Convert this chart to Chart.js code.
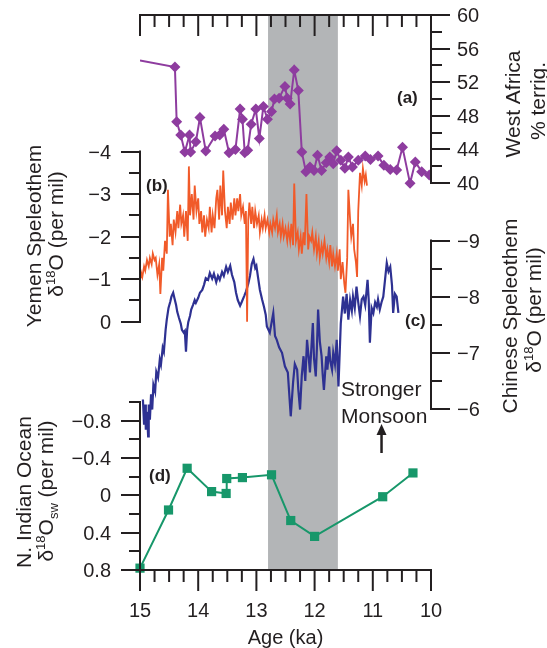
<!DOCTYPE html>
<html>
<head>
<meta charset="utf-8">
<script src="https://cdn.jsdelivr.net/npm/chart.js@4.4.0/dist/chart.umd.min.js"></script>
<style>
  html, body { margin: 0; padding: 0; background: #fff; }
  #wrap { width: 547px; height: 648px; position: relative; }
</style>
</head>
<body>
<div id="wrap"><canvas id="chart"></canvas></div>
<script>
// ---- data (age in ka, value) ----
const ageTicks = [15, 14, 13, 12, 11, 10];
const shadeBand = [12.8, 11.6];

// (a) West Africa % terrig.
const westAfrica = [
  [15.00, 54.6], [14.40, 53.8], [14.37, 47.3], [14.30, 45.7], [14.23, 43.7], [14.15, 45.7],
  [14.13, 43.7], [14.04, 44.9], [13.97, 47.8], [13.87, 43.8], [13.71, 45.6], [13.63, 45.7],
  [13.56, 46.4], [13.47, 43.6], [13.36, 44.0], [13.28, 48.8], [13.24, 47.6], [13.20, 43.6],
  [13.15, 43.9], [13.09, 47.0], [13.01, 48.8], [12.95, 45.3], [12.88, 49.1], [12.81, 47.6],
  [12.74, 48.5], [12.69, 50.0], [12.61, 50.1], [12.51, 51.5], [12.47, 50.1], [12.42, 49.4],
  [12.35, 53.45], [12.28, 51.0], [12.22, 43.7], [12.15, 41.35], [12.08, 41.9], [12.01, 41.5],
  [11.95, 43.3], [11.88, 41.5], [11.80, 42.4], [11.74, 43.1], [11.68, 42.3], [11.62, 43.85],
  [11.55, 42.7], [11.48, 41.75], [11.42, 43.1], [11.35, 41.9], [11.25, 42.7], [11.13, 43.2],
  [11.04, 42.8], [10.91, 43.2], [10.81, 42.1], [10.70, 41.6], [10.59, 41.55], [10.49, 44.25],
  [10.36, 39.96], [10.27, 42.5], [10.16, 41.35], [10.03, 40.95]
];

// (b) Yemen speleothem d18O
const yemen = [
  [15.00, -0.98], [14.98, -1.15], [14.96, -1.05], [14.93, -1.3], [14.91, -1.2], [14.88, -1.45],
  [14.85, -1.3], [14.83, -1.5], [14.80, -1.35], [14.78, -1.6], [14.75, -1.45], [14.73, -1.5],
  [14.70, -1.1], [14.67, -1.35], [14.65, -0.65], [14.62, -1.5], [14.60, -1.2], [14.57, -1.9],
  [14.54, -1.6], [14.52, -3.1], [14.49, -2.0], [14.47, -2.3], [14.44, -1.8], [14.42, -2.4],
  [14.39, -2.1], [14.36, -2.6], [14.34, -2.2], [14.31, -2.75], [14.29, -2.3], [14.26, -2.5],
  [14.24, -2.0], [14.21, -2.6], [14.18, -1.9], [14.16, -3.65], [14.14, -2.5], [14.11, -3.0],
  [14.08, -2.4], [14.06, -3.2], [14.03, -2.6], [14.00, -2.9], [13.98, -2.3], [13.95, -2.6],
  [13.93, -2.1], [13.90, -2.5], [13.88, -2.0], [13.85, -2.4], [13.82, -2.2], [13.80, -2.7],
  [13.77, -2.1], [13.75, -2.5], [13.72, -2.2], [13.69, -2.9], [13.67, -3.1], [13.64, -2.4],
  [13.62, -3.2], [13.59, -2.5], [13.57, -3.55], [13.54, -2.6], [13.51, -2.2], [13.49, -2.7],
  [13.46, -2.3], [13.44, -2.8], [13.41, -2.4], [13.38, -2.9], [13.36, -2.5], [13.33, -2.9],
  [13.31, -2.6], [13.28, -3.0], [13.26, -2.5], [13.23, -2.7], [13.20, -2.3], [13.18, -2.6],
  [13.16, 0.0], [13.14, -2.4], [13.12, -2.8], [13.09, -2.3], [13.07, -2.7], [13.04, -2.2],
  [13.02, -2.6], [12.99, -2.3], [12.96, -2.5], [12.94, -2.1], [12.91, -2.4], [12.89, -2.2],
  [12.86, -2.5], [12.84, -2.2], [12.81, -2.4], [12.78, -2.1], [12.76, -2.3], [12.73, -2.1],
  [12.71, -2.4], [12.68, -2.2], [12.65, -2.5], [12.63, -2.1], [12.60, -2.3], [12.58, -2.0],
  [12.55, -2.3], [12.53, -2.0], [12.50, -2.2], [12.47, -1.9], [12.45, -2.2], [12.42, -1.9],
  [12.40, -2.3], [12.37, -1.8], [12.35, -3.25], [12.32, -1.9], [12.29, -2.1], [12.27, -1.7],
  [12.24, -2.0], [12.22, -1.6], [12.19, -2.1], [12.17, -1.8], [12.14, -3.0], [12.11, -1.7],
  [12.09, -2.0], [12.06, -1.9], [12.04, -2.1], [12.01, -1.7], [11.98, -2.0], [11.96, -1.6],
  [11.93, -1.9], [11.91, -1.5], [11.88, -1.8], [11.86, -1.6], [11.83, -1.9], [11.80, -1.5],
  [11.78, -1.7], [11.75, -1.4], [11.73, -1.8], [11.70, -1.3], [11.68, -1.6], [11.65, -1.3],
  [11.62, -1.6], [11.60, -1.2], [11.57, -1.7], [11.55, -1.0], [11.52, -1.4], [11.49, -0.9],
  [11.47, -0.68], [11.44, -1.5], [11.42, -3.1], [11.39, -2.4], [11.37, -2.0], [11.34, -2.3],
  [11.32, -1.7], [11.29, -1.4], [11.27, -1.05], [11.25, -2.6], [11.22, -3.5], [11.19, -3.2],
  [11.17, -3.6], [11.14, -3.3], [11.12, -3.45], [11.10, -3.2]
];

// (c) Chinese speleothem d18O
const chinese = [
  [14.95, -6.17], [14.93, -5.72], [14.91, -6.08], [14.90, -5.63], [14.88, -5.95], [14.86, -5.51],
  [14.85, -6.08], [14.83, -5.81], [14.81, -6.26], [14.79, -5.99], [14.77, -6.43], [14.74, -6.31],
  [14.72, -6.66], [14.69, -6.56], [14.66, -6.88], [14.64, -6.79], [14.61, -7.09], [14.59, -7.02],
  [14.56, -7.41], [14.54, -7.59], [14.51, -7.80], [14.48, -7.91], [14.46, -8.00], [14.43, -8.07],
  [14.41, -7.98], [14.38, -7.85], [14.36, -7.73], [14.33, -7.62], [14.30, -7.52], [14.28, -7.41],
  [14.25, -7.36], [14.23, -7.39], [14.21, -7.02], [14.19, -7.41], [14.17, -7.55], [14.14, -7.66],
  [14.12, -7.77], [14.09, -7.85], [14.06, -7.94], [14.04, -7.89], [14.00, -7.98], [13.97, -8.07],
  [13.93, -8.12], [13.90, -8.21], [13.87, -8.33], [13.83, -8.30], [13.80, -8.42], [13.76, -8.32],
  [13.73, -8.41], [13.69, -8.26], [13.66, -8.37], [13.63, -8.30], [13.59, -8.44], [13.56, -8.37],
  [13.52, -8.53], [13.49, -8.44], [13.45, -8.55], [13.42, -8.39], [13.38, -8.26], [13.35, -8.07],
  [13.32, -7.94], [13.28, -7.84], [13.25, -7.91], [13.21, -8.01], [13.18, -8.09], [13.14, -8.23],
  [13.11, -8.37], [13.08, -8.58], [13.05, -8.67], [13.02, -8.51], [13.00, -8.55], [12.97, -8.33],
  [12.94, -8.12], [12.90, -7.94], [12.87, -7.82], [12.84, -7.68], [12.82, -7.47], [12.77, -7.36],
  [12.71, -7.71], [12.68, -7.30], [12.65, -7.23], [12.61, -7.10], [12.56, -7.00], [12.51, -6.76],
  [12.46, -6.65], [12.41, -5.87], [12.37, -6.47], [12.34, -6.80], [12.30, -6.70], [12.28, -6.35],
  [12.25, -5.99], [12.22, -6.60], [12.19, -6.94], [12.16, -6.50], [12.13, -7.23], [12.10, -6.90],
  [12.08, -6.65], [12.03, -7.53], [12.01, -6.90], [11.98, -6.58], [11.96, -7.10], [11.94, -7.77],
  [11.91, -7.20], [11.88, -6.94], [11.86, -6.60], [11.84, -6.34], [11.80, -6.94], [11.78, -6.70],
  [11.75, -7.11], [11.73, -6.85], [11.70, -6.70], [11.68, -7.00], [11.65, -6.80], [11.62, -7.23],
  [11.59, -6.40], [11.55, -7.53], [11.51, -8.00], [11.48, -7.70], [11.45, -8.05], [11.42, -7.59],
  [11.39, -7.94], [11.36, -7.75], [11.34, -8.00], [11.31, -7.80], [11.28, -8.18], [11.25, -7.90],
  [11.22, -7.65], [11.19, -7.95], [11.16, -8.00], [11.13, -7.85], [11.09, -8.30], [11.07, -7.94],
  [11.05, -7.18], [11.02, -7.80], [10.99, -7.71], [10.96, -7.90], [10.93, -7.82], [10.91, -7.95],
  [10.88, -7.77], [10.85, -7.90], [10.82, -8.00], [10.79, -8.30], [10.76, -8.60], [10.73, -8.45],
  [10.70, -8.53], [10.67, -8.20], [10.65, -7.71], [10.62, -8.05], [10.59, -8.00], [10.56, -7.71]
];

// (d) N. Indian Ocean d18Osw
const indianOcean = [
  [15.00, 0.78], [14.51, 0.157], [14.19, -0.29], [13.77, -0.04], [13.52, -0.02], [13.51, -0.18],
  [13.24, -0.19], [12.74, -0.22], [12.41, 0.27], [12.00, 0.44], [10.83, 0.015], [10.31, -0.24]
];

// axis label values
const waTicks = [60, 56, 52, 48, 44, 40];
const yemenTicks = [-4, -3, -2, -1, 0];
const chinaTicks = [-9, -8, -7, -6];
const indianTicks = [-0.8, -0.4, 0, 0.4, 0.8];

// ---- layout ----
const PLOT = { left: 140, right: 431, top: 15, bottom: 570 };
const W = 547, H = 648;
const FONT = '"Liberation Sans", Arial, Helvetica, sans-serif';
const INK = '#231f20';

// min/max so that v0 sits at pixel p0 and v1 at pixel p1
function band(v0, p0, v1, p1) {
  const k = (v1 - v0) / (p1 - p0);
  const a = v0 + (PLOT.top - p0) * k;
  const b = v0 + (PLOT.bottom - p0) * k;
  return a < b ? { min: a, max: b, reverse: true } : { min: b, max: a, reverse: false };
}

const toXY = (arr) => arr.map(([x, y]) => ({ x, y }));
const fmt = (v) => String(v).replace('-', '\u2212');

function vAxis(ctx, scale, x, dir, lo, hi, step, majors) {
  ctx.beginPath();
  ctx.moveTo(x, scale.getPixelForValue(lo));
  ctx.lineTo(x, scale.getPixelForValue(hi));
  ctx.stroke();
  const n = Math.round((hi - lo) / step);
  for (let i = 0; i <= n; i++) {
    const v = lo + i * step;
    const y = Math.round(scale.getPixelForValue(v));
    const major = majors.some((m) => Math.abs(m - v) < 1e-6);
    const len = major ? 18 : 10;
    ctx.beginPath();
    ctx.moveTo(x, y);
    ctx.lineTo(x + dir * len, y);
    ctx.stroke();
  }
  ctx.font = '20px ' + FONT;
  ctx.textBaseline = 'alphabetic';
  ctx.textAlign = dir < 0 ? 'right' : 'left';
  majors.forEach((m) => {
    const y = scale.getPixelForValue(m);
    ctx.fillText(fmt(m), x + dir * (dir < 0 ? 29 : 26), y + 7);
  });
}

function hAxis(ctx, scale, y, dir) {
  ctx.beginPath();
  ctx.moveTo(scale.getPixelForValue(15), y);
  ctx.lineTo(scale.getPixelForValue(10), y);
  ctx.stroke();
  for (let i = 0; i <= 20; i++) {
    const v = 15 - i * 0.25;
    const x = scale.getPixelForValue(v);
    const len = i % 4 === 0 ? 20 : 11;
    ctx.beginPath();
    ctx.moveTo(x, y);
    ctx.lineTo(x, y + dir * len);
    ctx.stroke();
  }
}

// rotated multi-part title; parts: [text, size, shift]
function vTitle(ctx, x, yc, parts) {
  ctx.save();
  ctx.translate(x, yc);
  ctx.rotate(-Math.PI / 2);
  ctx.textBaseline = 'alphabetic';
  ctx.textAlign = 'left';
  let total = 0;
  parts.forEach(([t, s]) => { ctx.font = s + 'px ' + FONT; total += ctx.measureText(t).width; });
  let pos = -total / 2;
  parts.forEach(([t, s, d]) => {
    ctx.font = s + 'px ' + FONT;
    ctx.fillText(t, pos, d || 0);
    pos += ctx.measureText(t).width;
  });
  ctx.restore();
}

const decor = {
  id: 'decor',
  beforeDatasetsDraw(chart) {
    const { ctx, chartArea, scales } = chart;
    const x0 = scales.x.getPixelForValue(shadeBand[0]);
    const x1 = scales.x.getPixelForValue(shadeBand[1]);
    ctx.save();
    ctx.fillStyle = '#b3b5b7';
    ctx.fillRect(x0, chartArea.top, x1 - x0, chartArea.bottom - chartArea.top);
    ctx.restore();
  },
  afterDatasetsDraw(chart) {
    const { ctx, scales } = chart;
    const xs = scales.x;
    const L = xs.getPixelForValue(15), R = xs.getPixelForValue(10);
    ctx.save();
    ctx.strokeStyle = INK;
    ctx.fillStyle = INK;
    ctx.lineWidth = 2;
    ctx.lineCap = 'square';

    // top and bottom age axes
    hAxis(ctx, xs, PLOT.top, 1);
    hAxis(ctx, xs, PLOT.bottom, 1);
    ctx.font = '20px ' + FONT;
    ctx.textAlign = 'center';
    ctx.textBaseline = 'alphabetic';
    ageTicks.forEach((a) => ctx.fillText(String(a), xs.getPixelForValue(a), 617));
    ctx.fillText('Age (ka)', (L + R) / 2, 644);

    // panel axes
    vAxis(ctx, scales.yA, R, 1, 40, 60, 2, waTicks);
    vAxis(ctx, scales.yB, L, -1, -4, 0, 0.5, yemenTicks);
    vAxis(ctx, scales.yC, R, 1, -9, -6, 0.5, chinaTicks);
    vAxis(ctx, scales.yD, L, -1, -1.0, 0.8, 0.2, indianTicks);

    // axis titles
    vTitle(ctx, 520, 104, [['West Africa', 21]]);
    vTitle(ctx, 545, 101, [['% terrig.', 21]]);
    vTitle(ctx, 41, 236, [['Yemen Speleothem', 21]]);
    vTitle(ctx, 63, 234, [['\u03b4', 21], ['18', 13, -8], ['O (per mil)', 21]]);
    vTitle(ctx, 517, 316, [['Chinese Speleothem', 21]]);
    vTitle(ctx, 541, 310, [['\u03b4', 21], ['18', 13, -8], ['O (per mil)', 21]]);
    vTitle(ctx, 31, 492, [['N. Indian Ocean', 21]]);
    vTitle(ctx, 53, 491, [['\u03b4', 21], ['18', 13, -8], ['O', 21], ['sw', 13, 5], [' (per mil)', 21]]);

    // panel letters
    ctx.font = 'bold 17px ' + FONT;
    ctx.textAlign = 'left';
    ctx.textBaseline = 'middle';
    ctx.fillText('(a)', 397, 98);
    ctx.fillText('(b)', 146, 186);
    ctx.fillText('(c)', 405, 321);
    ctx.fillText('(d)', 149, 476);

    // monsoon note and arrow
    ctx.font = '21px ' + FONT;
    ctx.textBaseline = 'alphabetic';
    ctx.fillText('Stronger', 341, 396);
    ctx.fillText('Monsoon', 341, 423);
    const ax = xs.getPixelForValue(10.85);
    ctx.lineCap = 'butt';
    ctx.lineWidth = 2.5;
    ctx.beginPath();
    ctx.moveTo(ax, 453);
    ctx.lineTo(ax, 432);
    ctx.stroke();
    ctx.beginPath();
    ctx.moveTo(ax, 424);
    ctx.lineTo(ax - 5, 435);
    ctx.lineTo(ax + 5, 435);
    ctx.closePath();
    ctx.fill();
    ctx.restore();
  }
};

const ctx = document.getElementById('chart').getContext('2d');

new Chart(ctx, {
  type: 'line',
  data: {
    datasets: [
      {
        label: 'West Africa % terrig.',
        data: toXY(westAfrica),
        yAxisID: 'yA',
        borderColor: '#8e3c9f',
        backgroundColor: '#8e3c9f',
        borderWidth: 2,
        pointStyle: 'rectRot',
        pointRadius: westAfrica.map((p, i) => (i === 0 ? 0 : 5.5)),
        pointBorderWidth: 0,
        order: 0,
      },
      {
        label: 'Yemen speleothem',
        data: toXY(yemen),
        yAxisID: 'yB',
        borderColor: '#f15a29',
        borderWidth: 1.8,
        pointRadius: 0,
        order: 1,
      },
      {
        label: 'Chinese speleothem',
        data: toXY(chinese),
        yAxisID: 'yC',
        borderColor: '#2e3192',
        borderWidth: 2.2,
        pointRadius: 0,
        order: 2,
      },
      {
        label: 'N. Indian Ocean',
        data: toXY(indianOcean),
        yAxisID: 'yD',
        borderColor: '#17976a',
        backgroundColor: '#17976a',
        borderWidth: 2,
        pointStyle: 'rect',
        pointRadius: 6.5,
        pointBorderWidth: 0,
        clip: false,
        order: 3,
      },
    ],
  },
  options: {
    responsive: true,
    maintainAspectRatio: false,
    animation: false,
    layout: {
      padding: { left: PLOT.left, right: W - PLOT.right, top: PLOT.top, bottom: H - PLOT.bottom },
    },
    plugins: { legend: { display: false }, tooltip: { enabled: false } },
    scales: {
      x: { type: 'linear', min: 10, max: 15, reverse: true, display: false },
      yA: Object.assign({ type: 'linear', display: false }, band(60, 15, 40, 183)),
      yB: Object.assign({ type: 'linear', display: false }, band(-4, 151.5, 0, 321.7)),
      yC: Object.assign({ type: 'linear', display: false }, band(-9, 240.5, -6, 409)),
      yD: Object.assign({ type: 'linear', display: false }, band(-1.0, 402, 0.8, 570)),
    },
  },
  plugins: [decor],
});
</script>
</body>
</html>
